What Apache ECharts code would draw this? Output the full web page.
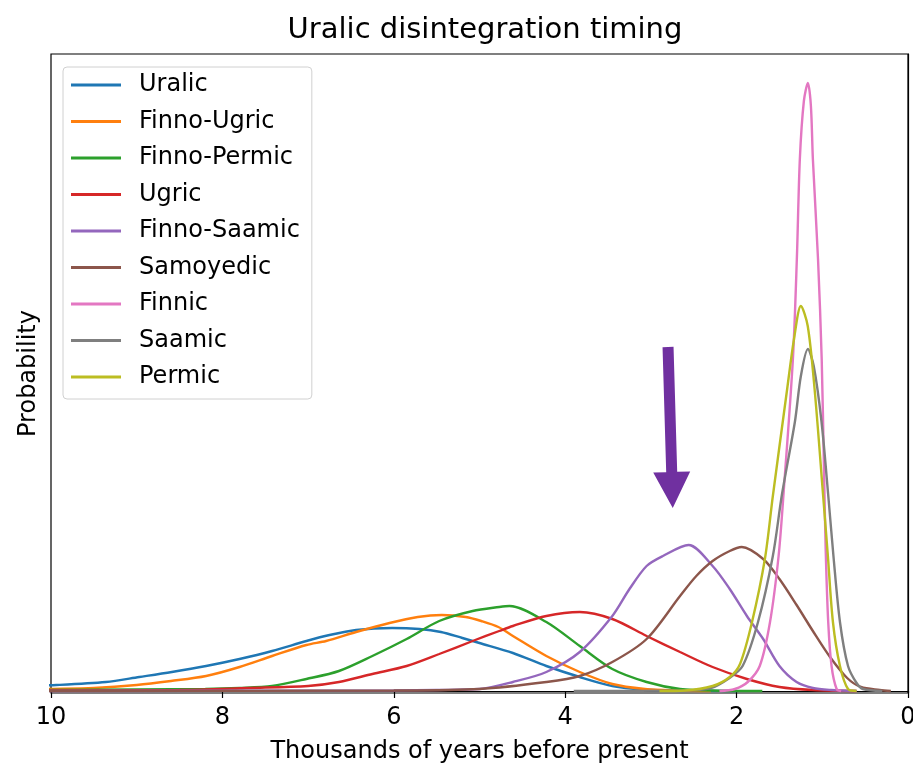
<!DOCTYPE html>
<html>
<head>
<meta charset="utf-8">
<script src="https://cdn.jsdelivr.net/npm/echarts@6/dist/echarts.min.js"></script>
<style>
  html, body { margin: 0; padding: 0; background: #fff; }
  #chart { width: 913px; height: 767px; }
</style>
</head>
<body>
<div id="chart"></div>
<script>
// series names, in plot order
const names = ['Uralic', 'Finno-Ugric', 'Finno-Permic', 'Ugric', 'Finno-Saamic',
  'Samoyedic', 'Finnic', 'Saamic', 'Permic']
const colors = ['#1f77b4', '#ff7f0e', '#2ca02c', '#d62728', '#9467bd',
  '#8c564b', '#e377c2', '#7f7f7f', '#bcbd22']

// x: thousands of years before present, y: relative probability
const uralicX = [10.6, 9.94, 9.36, 8.97, 8.59, 8.19, 7.8, 7.42, 7.02, 6.75, 6.44, 6.02, 5.7, 5.45, 5.2, 5.0, 4.61, 4.22, 3.83, 3.45, 3.1, 2.6, 2.0]
const uralicY = [4, 6, 9, 14, 19, 25, 32, 40, 50, 56, 61, 63, 62, 59, 53, 48, 38, 25, 14, 5, 1.5, 0.3, 0]

const finnoUgricX = [10.6, 10, 9.5, 9, 8.6, 8.19, 7.8, 7.42, 7.02, 6.79, 6.44, 6.05, 5.72, 5.44, 5.16, 4.98, 4.78, 4.61, 4.22, 3.83, 3.45, 3.07, 2.7, 2.3]
const finnoUgricY = [1, 2, 3, 6, 10, 15, 24, 35, 46, 50, 59, 68, 74, 76, 74, 70, 64, 55, 35, 19, 7, 2, 0.5, 0]

const finnoPermicX = [10.6, 10, 9, 8.2, 7.8, 7.42, 7.02, 6.64, 6.25, 5.85, 5.47, 5.08, 4.77, 4.65, 4.22, 3.83, 3.45, 3.05, 2.66, 2.2, 1.7]
const finnoPermicY = [0.5, 1, 1.5, 2, 3, 5, 12, 20, 35, 52, 70, 80, 84, 85, 69, 45, 22, 9, 2, 0.3, 0]

const ugricX = [10.6, 10, 8.5, 7.7, 7.0, 6.64, 6.25, 5.85, 5.47, 5.08, 4.77, 4.61, 4.22, 3.83, 3.45, 3.05, 2.66, 2.28, 1.88, 1.5, 1.11, 0.6]
const ugricY = [0.3, 0.5, 1, 3, 5, 9, 17, 25, 37, 50, 60, 65, 75, 79, 72, 55, 39, 24, 12, 4, 1, 0]

const finnoSaamicX = [10.6, 6, 5.5, 5.0, 4.61, 4.22, 3.83, 3.45, 3.25, 3.05, 2.86, 2.56, 2.28, 2.08, 1.88, 1.69, 1.5, 1.3, 1.11, 0.9, 0.6]
const finnoSaamicY = [0, 0.5, 1, 2, 9, 19, 39, 75, 102, 125, 135, 146, 125, 102, 75, 52, 25, 9, 3, 1, 0]

const samoyedicX = [10.6, 6, 5, 4.22, 3.83, 3.45, 3.05, 2.66, 2.47, 2.28, 2.08, 1.94, 1.69, 1.5, 1.3, 1.11, 0.91, 0.71, 0.55, 0.33, 0.2]
const samoyedicY = [0, 0.5, 2, 9, 15, 29, 52, 95, 115, 130, 140, 144, 132, 112, 86, 60, 34, 13, 4, 1, 0]

const finnicX = [2.2, 2.02, 1.87, 1.73, 1.61, 1.51, 1.45, 1.343, 1.297, 1.262, 1.215, 1.168, 1.133, 1.11, 1.05, 1.007, 0.98, 0.96, 0.931, 0.892, 0.833, 0.78]
const finnicY = [0, 2, 9, 25, 69, 135, 200, 332, 432, 532, 590, 608, 585, 532, 432, 332, 220, 140, 69, 25, 2, 0]

const saamicX = [3.9, 2.6, 2.3, 2.1, 1.93, 1.75, 1.577, 1.47, 1.32, 1.25, 1.168, 1.1, 1.01, 0.93, 0.87, 0.794, 0.70, 0.6, 0.526, 0.3]
const saamicY = [0, 0.5, 3, 12, 25, 69, 135, 197, 269, 315, 342, 325, 270, 195, 135, 69, 25, 8, 2, 0]

const permicX = [2.9, 2.6, 2.28, 2.08, 1.96, 1.82, 1.67, 1.577, 1.41, 1.33, 1.25, 1.17, 1.09, 0.99, 0.935, 0.876, 0.794, 0.70, 0.6]
const permicY = [0, 0.5, 5, 14, 27, 69, 132, 195, 302, 352, 385, 365, 302, 195, 135, 69, 25, 2, 0]

const seriesX = [uralicX, finnoUgricX, finnoPermicX, ugricX, finnoSaamicX, samoyedicX, finnicX, saamicX, permicX]
const seriesY = [uralicY, finnoUgricY, finnoPermicY, ugricY, finnoSaamicY, samoyedicY, finnicY, saamicY, permicY]

const xTicks = [10, 8, 6, 4, 2, 0]

// purple annotation arrow, in data units (tail -> tip)
const arrowFrom = [2.80, 344]
const arrowTo = [2.745, 183]

const font = 'DejaVu Sans'
const chart = echarts.init(document.getElementById('chart'))

chart.setOption({
  animation: false,
  title: {
    text: 'Uralic disintegration timing',
    left: 480,
    textAlign: 'center',
    top: 11,
    textStyle: { fontFamily: font, fontSize: 29, fontWeight: 'normal', color: '#000' }
  },
  legend: {
    orient: 'vertical',
    left: 63,
    top: 67,
    data: names,
    icon: 'rect',
    itemWidth: 50,
    itemHeight: 3,
    itemGap: 12.5,
    padding: [6, 12, 10, 8],
    borderColor: '#d0d0d0',
    borderWidth: 1,
    borderRadius: 4,
    backgroundColor: 'rgba(255,255,255,0.8)',
    textStyle: {
      fontFamily: font, fontSize: 24, color: '#000',
      lineHeight: 24, padding: [0, 0, 0, 13]
    }
  },
  grid: {
    left: 51, right: 5, top: 54, bottom: 74,
    outerBoundsMode: 'none',
    show: true, borderColor: '#000', borderWidth: 1.2
  },
  xAxis: {
    type: 'value',
    inverse: true,
    min: 0,
    max: 10,
    interval: 2,
    name: 'Thousands of years before present',
    nameLocation: 'middle',
    nameGap: 47,
    nameTextStyle: { fontFamily: font, fontSize: 24, color: '#000' },
    axisLine: { lineStyle: { color: '#000', width: 1.2 } },
    axisTick: { length: 7, lineStyle: { color: '#000', width: 1.2 } },
    axisLabel: {
      fontFamily: font, fontSize: 24, color: '#000', margin: 13,
      formatter: v => xTicks.includes(v) ? String(v) : ''
    },
    splitLine: { show: false }
  },
  yAxis: {
    type: 'value',
    min: -2,
    max: 637,
    name: 'Probability',
    nameLocation: 'middle',
    nameGap: 10,
    nameTextStyle: { fontFamily: font, fontSize: 24, color: '#000' },
    axisLine: { show: true, lineStyle: { color: '#000', width: 1.2 } },
    axisTick: { show: false },
    axisLabel: { show: false },
    splitLine: { show: false }
  },
  series: names.map((name, i) => ({
    name,
    type: 'line',
    data: seriesX[i].map((x, j) => [x, seriesY[i][j]]),
    showSymbol: false,
    symbol: 'none',
    smooth: 0.3,
    clip: true,
    color: colors[i],
    lineStyle: { width: 2.4, color: colors[i] },
    z: 2 + i
  }))
})

// draw the arrow once the axes exist
const tail = chart.convertToPixel({ gridIndex: 0 }, arrowFrom)
const tip = chart.convertToPixel({ gridIndex: 0 }, arrowTo)
const dx = tip[0] - tail[0]
const dy = tip[1] - tail[1]
const len = Math.sqrt(dx * dx + dy * dy)
const ux = dx / len, uy = dy / len
const nx = -uy, ny = ux
const shaftHalf = 5.5, headHalf = 18.5, headLen = 36
const base = [tip[0] - ux * headLen, tip[1] - uy * headLen]
const pts = [
  [tail[0] + nx * shaftHalf, tail[1] + ny * shaftHalf],
  [base[0] + nx * shaftHalf, base[1] + ny * shaftHalf],
  [base[0] + nx * headHalf, base[1] + ny * headHalf],
  tip,
  [base[0] - nx * headHalf, base[1] - ny * headHalf],
  [base[0] - nx * shaftHalf, base[1] - ny * shaftHalf],
  [tail[0] - nx * shaftHalf, tail[1] - ny * shaftHalf]
]
chart.setOption({
  graphic: [{
    type: 'polygon',
    shape: { points: pts },
    style: { fill: '#7030a0' },
    z: 100
  }]
})
</script>
</body>
</html>
